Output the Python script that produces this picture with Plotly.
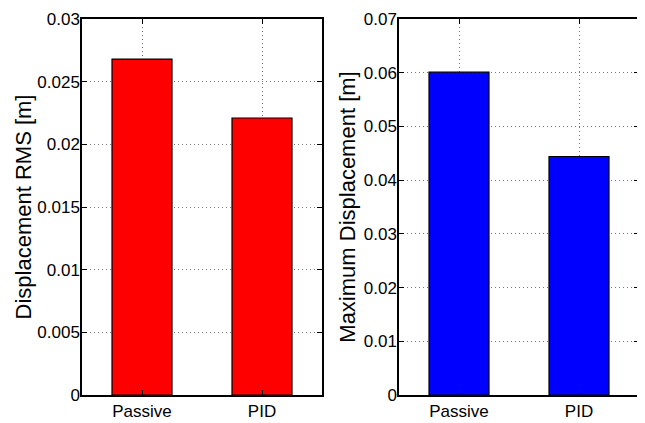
import plotly.graph_objects as go
from plotly.subplots import make_subplots

categories = ["Passive", "PID"]
rms_values = [0.0268, 0.0221]
max_values = [0.0601, 0.0444]
rms_ticks = [0, 0.005, 0.01, 0.015, 0.02, 0.025, 0.03]
rms_ticktext = ["0", "0.005", "0.01", "0.015", "0.02", "0.025", "0.03"]
max_ticks = [0, 0.01, 0.02, 0.03, 0.04, 0.05, 0.06, 0.07]
max_ticktext = ["0", "0.01", "0.02", "0.03", "0.04", "0.05", "0.06", "0.07"]

W, H = 645, 423
OFF = 8  # page body margin
TICKFONT = dict(family="Liberation Sans, Arial, Helvetica", size=17, color="black")
TITLEFONT = dict(family="Liberation Sans, Arial, Helvetica", size=22, color="black")

fig = make_subplots(rows=1, cols=2)
fig.add_trace(go.Bar(x=categories, y=rms_values, width=0.5,
                     marker=dict(color="#ff0000", line=dict(color="black", width=1.2)),
                     showlegend=False), row=1, col=1)
fig.add_trace(go.Bar(x=categories, y=max_values, width=0.5,
                     marker=dict(color="#0000ff", line=dict(color="black", width=1.2)),
                     showlegend=False), row=1, col=2)

common_axis = dict(showline=True, linecolor="black", linewidth=1.5, mirror="ticks",
                   ticks="inside", ticklen=5, tickcolor="black", tickwidth=1,
                   showgrid=True, gridcolor="#7a7a7a", griddash="1px,3px", gridwidth=1,
                   zeroline=False, tickfont=TICKFONT, automargin=False)

def xd(a, b):
    return [(a - OFF) / W, (b - OFF) / W]

yb = (H - (395 - OFF)) / H
yt = (H - (19 - OFF)) / H
fig.update_layout(
    width=W, height=H, autosize=False,
    margin=dict(l=0, r=0, t=0, b=0),
    paper_bgcolor="white", plot_bgcolor="white",
    xaxis=dict(domain=xd(82, 322), range=[-0.5, 1.5], **common_axis),
    xaxis2=dict(domain=xd(399, 639), range=[-0.5, 1.5], **common_axis),
    yaxis=dict(domain=[yb, yt], range=[0, 0.03], tickvals=rms_ticks, ticktext=rms_ticktext,
               ticklabelstandoff=-3,
               title=dict(text="Displacement RMS [m]", font=TITLEFONT, standoff=0), **common_axis),
    yaxis2=dict(domain=[yb, yt], range=[0, 0.07], tickvals=max_ticks, ticktext=max_ticktext,
                ticklabelstandoff=-3,
                title=dict(text="Maximum Displacement [m]", font=TITLEFONT, standoff=2), **common_axis),
)

fig.write_html("out.html")
